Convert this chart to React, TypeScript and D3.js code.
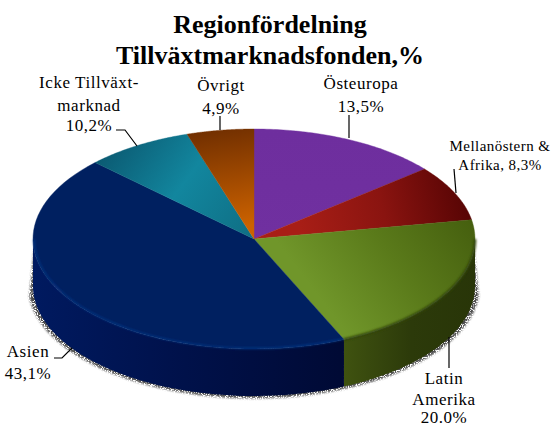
import React from "react";
import * as d3 from "d3";

const categories = ["Östeuropa", "Mellanöstern & Afrika", "Latin Amerika", "Asien", "Icke Tillväxtmarknad", "Övrigt"];
const values = [13.5, 8.3, 20.0, 43.1, 10.2, 4.9];
const titleLines = ["Regionfördelning", "Tillväxtmarknadsfonden,%"];
// per-slice gradients: colour stops and direction (x1,y1,x2,y2)
const sliceStops = [
  ["#6e2e9e", "#7030a0"],
  ["#560404", "#8a1410", "#a81e16"],
  ["#46600f", "#5a7a1a", "#70962a"],
  ["#002060", "#002060"],
  ["#0b5a72", "#12869e", "#0f6f85"],
  ["#733000", "#cc6200"],
];
const sliceVectors = [
  [254, 130, 254, 240],
  [468, 195, 300, 232],
  [472, 225, 340, 325],
  [254, 130, 254, 240],
  [115, 135, 250, 235],
  [220, 130, 235, 228],
];
const wallColors: Record<string, string[]> = {
  "Latin Amerika": ["#3f5210", "#2c3a0a", "#283508"],
  "Asien": ["#000a35", "#00114a", "#001a60"],
};
// the printed pie is drawn in perspective: pie angle (deg) -> drawn angle (deg)
const perspDomain = [0, 48.6, 78.5, 150.5, 305.6, 342.4, 360];
const perspRange = [0, 50.5, 80, 156, 314, 342.4, 360];

const labels = [
  { lines: ["Icke Tillväxt-", "marknad", "10,2%"], x: 89, ys: [88, 111, 131], size: 17, ls: 0.55, leader: [[116, 130], [125, 130], [137, 146]] },
  { lines: ["Övrigt", "4,9%"], x: 221, ys: [91, 114], size: 17, ls: 0.55, leader: [[220, 116], [220, 130]] },
  { lines: ["Östeuropa", "13,5%"], x: 361, ys: [89, 112], size: 17, ls: 0.55, leader: [[349, 115], [349, 138]] },
  { lines: ["Mellanöstern &", "Afrika, 8,3%"], x: 500, ys: [151, 170], size: 15, ls: 0.45, leader: [[454, 169], [456, 193]] },
  { lines: ["Latin", "Amerika", "20.0%"], x: 444, ys: [384, 405, 423], size: 17, ls: 0.55, leader: [[449, 337], [449, 368]] },
  { lines: ["Asien", "43,1%"], x: 28, ys: [357, 379], size: 17, ls: 0.55, leader: [[54, 358], [62, 358], [72, 348]] },
];

const W = 552, H = 427;
const cx = 254, cy = 239, rx = 221, ry = 110, depth = 47;

const warp = d3.scaleLinear<number>().domain(perspDomain.map(d => (d * Math.PI) / 180)).range(perspRange.map(d => (d * Math.PI) / 180));
const pie = d3.pie<number>().sort(null).value(d => d);
const arcs = pie(values);

const pt = (a: number, dy = 0, k = 1): [number, number] => [cx + rx * k * Math.sin(a), cy + dy - ry * k * Math.cos(a)];

function topPath(a0: number, a1: number) {
  const steps = 60;
  const p = d3.path();
  p.moveTo(cx, cy);
  d3.range(steps + 1).forEach(i => {
    const [x, y] = pt(a0 + ((a1 - a0) * i) / steps);
    p.lineTo(x, y);
  });
  p.closePath();
  return p.toString();
}

function wallPath(a0: number, a1: number, k = 1) {
  const angles = d3.range(61).map(i => a0 + ((a1 - a0) * i) / 60);
  const line = d3.line();
  const upper = angles.map(a => pt(a));
  const lower = angles.slice().reverse().map(a => pt(a, depth, k));
  return line([...upper, ...lower]) + "Z";
}

function rimPath(a0: number, a1: number, k: number) {
  const angles = d3.range(61).map(i => a0 + ((a1 - a0) * i) / 60);
  return d3.line()(angles.map(a => pt(a, 0, k))) || "";
}

export default function App() {
  return (
    <svg width={W} height={H} viewBox={`0 0 ${W} ${H}`} style={{ position: "absolute", left: 0, top: 0, background: "#fff" }} fontFamily="'Liberation Serif', serif">
      <defs>
        <filter id="dither" x="-5%" y="-5%" width="110%" height="110%" colorInterpolationFilters="sRGB">
          <feGaussianBlur in="SourceGraphic" stdDeviation="1.2" result="b" />
          <feTurbulence type="fractalNoise" baseFrequency="0.85" numOctaves="2" seed="4" result="n" />
          <feColorMatrix in="n" type="matrix" values="0 0 0 0 0.3  0 0 0 0 0.3  0 0 0 0 0.3  7 0 0 0 -2.6" result="d" />
          <feComposite in="d" in2="b" operator="in" />
        </filter>
        <filter id="soft" x="-5%" y="-5%" width="110%" height="110%">
          <feGaussianBlur stdDeviation="1" />
        </filter>
        {arcs.map((d, i) => {
          const [x1, y1, x2, y2] = sliceVectors[i];
          const st = sliceStops[i];
          return (
            <linearGradient key={i} id={`top${i}`} gradientUnits="userSpaceOnUse" x1={x1} y1={y1} x2={x2} y2={y2}>
              {st.map((c, j) => <stop key={j} offset={j / (st.length - 1)} stopColor={c} />)}
            </linearGradient>
          );
        })}
        {Object.entries(wallColors).map(([name, cols]) => (
          <linearGradient key={name} id={`wall${categories.indexOf(name)}`} gradientUnits="userSpaceOnUse" x1={name === "Asien" ? 340 : 345} y1={0} x2={name === "Asien" ? 30 : 478} y2={0}>
            {cols.map((c, j) => <stop key={j} offset={j / (cols.length - 1)} stopColor={c} />)}
          </linearGradient>
        ))}
      </defs>

      {/* noisy grey shadow around the base */}
      <path d={wallPath(Math.PI * 0.53, Math.PI * 1.47, 1.022)} fill="#555" filter="url(#dither)" />

      {/* outer walls */}
      {arcs.map((d, i) => {
        const a0 = Math.max(warp(d.startAngle), Math.PI / 2);
        const a1 = Math.min(warp(d.endAngle), (Math.PI * 3) / 2);
        if (a1 <= a0 || !wallColors[categories[i]]) return null;
        return <path key={i} d={wallPath(a0, a1)} fill={`url(#wall${i})`} />;
      })}

      {/* top faces */}
      {arcs.map((d, i) => (
        <path key={i} d={topPath(warp(d.startAngle), warp(d.endAngle))} fill={`url(#top${i})`} stroke={`url(#top${i})`} strokeWidth={0.4} />
      ))}

      {/* bevel on the front rim */}
      {arcs.map((d, i) => {
        const a0 = Math.max(warp(d.startAngle), Math.PI / 2);
        const a1 = Math.min(warp(d.endAngle), (Math.PI * 3) / 2);
        if (a1 <= a0 || !wallColors[categories[i]]) return null;
        return i === 3
          ? <path key={`r${i}`} d={rimPath(a0, a1, 0.995)} fill="none" stroke="#0a3a8c" strokeWidth={1.2} filter="url(#soft)" />
          : <path key={`r${i}`} d={rimPath(a0, a1, 1)} fill="none" stroke="#33440c" strokeWidth={2.5} filter="url(#soft)" />;
      })}

      {/* title */}
      <g fontWeight="bold" fontSize={26} textAnchor="middle" fill="#000">
        {titleLines.map((t, i) => <text key={t} x={270} y={33 + i * 31}>{t}</text>)}
      </g>

      {/* labels and leader lines */}
      {labels.map(l => (
        <g key={l.lines[0]}>
          {l.lines.map((t, i) => (
            <text key={t} x={l.x} y={l.ys[i]} textAnchor="middle" fontSize={l.size} letterSpacing={l.ls} fill="#000">{t}</text>
          ))}
          <path d={d3.line()(l.leader as [number, number][]) || ""} fill="none" stroke="#000" strokeWidth={1.2} />
        </g>
      ))}
    </svg>
  );
}
